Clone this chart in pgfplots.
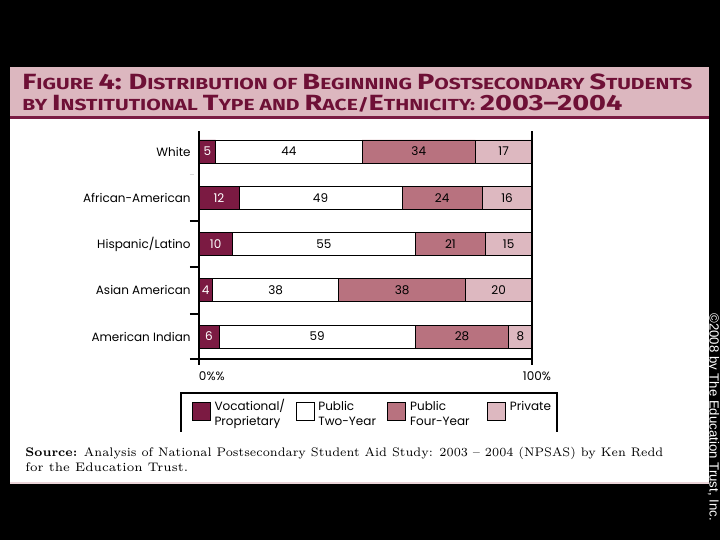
\documentclass[border=0pt]{standalone}
\usepackage{fontspec}
\usepackage{graphicx}
\usepackage{pgfplots}
\pgfplotsset{compat=1.18}
\newfontfamily\chartfont{Poppins}
\newfontfamily\titlefont{Fira Sans}
\newfontfamily\notefont{Liberation Sans}
\definecolor{voc}{HTML}{7B1A42}
\definecolor{four}{HTML}{B8727F}
\definecolor{priv}{HTML}{DDB8C0}
\definecolor{banner}{HTML}{DCB7BF}
\definecolor{titlecol}{HTML}{6E1036}
\definecolor{rulecol}{HTML}{7A1B43}
\newcommand\B[1]{{\fontsize{11}{11}\selectfont #1}}

\begin{document}
\begin{tikzpicture}
\path[use as bounding box] (0pt,0pt) rectangle (360pt,270pt);
% page, panel and title banner (1px = 0.5pt)
\fill[black] (0pt,0pt) rectangle (360pt,270pt);
\fill[white] (5pt,28pt) rectangle (354.5pt,236.5pt);
\fill[banner!60] (5pt,28pt) rectangle (354.5pt,28.8pt);
\fill[banner] (5pt,212pt) rectangle (354.5pt,236.5pt);
\fill[rulecol] (5pt,210.5pt) rectangle (354.5pt,212pt);
\node[anchor=base west, inner sep=0pt] at (11pt,225pt)
  {\resizebox{335pt}{\height}{\titlefont\bfseries\color{titlecol}\fontsize{8}{8}\selectfont
   \B{F}IGURE \B{4:} \B{D}ISTRIBUTION OF \B{B}EGINNING \B{P}OSTSECONDARY \B{S}TUDENTS}};
\node[anchor=base west, inner sep=0pt] at (11pt,214.5pt)
  {\resizebox{300pt}{\height}{\titlefont\bfseries\color{titlecol}\fontsize{8}{8}\selectfont
   BY \B{I}NSTITUTIONAL \B{T}YPE AND \B{R}ACE/\B{E}THNICITY: \B{2003–2004}}};

\begin{axis}[
  at={(99.5pt,90.5pt)}, anchor=south west,
  scale only axis, width=166.5pt, height=114pt,
  xbar stacked, bar width=11.5pt,
  xmin=0, xmax=100,
  ymin=-0.443, ymax=4.486, y dir=reverse,
  axis line style={draw=none},
  xtick={0,100}, xticklabels={\rlap{0\%\%}, \hspace*{5pt}100\%},
  xtick pos=bottom, xtick align=outside, major tick length=3pt,
  x tick style={black, line width=0.6pt},
  ytick={0,...,4},
  yticklabels={White, African-American, Hispanic/Latino\hspace{2pt}, Asian American\hspace{4.5pt}, American Indian\hspace{2.5pt}},
  y tick style={draw=none},
  y tick label style={anchor=east, inner sep=0pt, xshift=-4pt},
  font=\chartfont\fontsize{6}{7.5}\selectfont,
  /pgf/number format/assume math mode=true,
  point meta=explicit,
  nodes near coords,
  every node near coord/.append style={anchor=center},
  legend columns=4,
  legend style={at={(axis description cs:-0.023,-0.155)}, anchor=north west,
    draw=none, fill=none, inner sep=0pt, column sep=0pt,
    cells={anchor=base west}},
  legend image code/.code={\draw[#1, draw=black, line width=0.4pt] (0pt,-5pt) rectangle (9pt,4pt); \path (9pt,0pt);},
]
% bar length as drawn, [printed value]
\addplot[fill=voc, draw=black, line width=0.4pt, every node near coord/.append style={white}]
  coordinates {(5,0) [5] (12,1) [12] (10,2) [10] (4,3) [4] (6,4) [6]};
\addplot[fill=white, draw=black, line width=0.4pt]
  coordinates {(44,0) [44] (49,1) [49] (55,2) [55] (38,3) [38] (59,4) [59]};
\addplot[fill=four, draw=black, line width=0.4pt]
  coordinates {(34,0) [34] (24,1) [24] (21,2) [21] (38,3) [38] (28,4) [28]};
\addplot[fill=priv, draw=black, line width=0.4pt]
  coordinates {(17,0) [17] (15,1) [16] (14,2) [15] (20,3) [20] (7,4) [8]};
\legend{\parbox[t]{38.5pt}{Vocational/\\Proprietary},
        \parbox[t]{32.5pt}{Public\\Two-Year},
        \parbox[t]{36.5pt}{Public\\Four-Year},
        \parbox[t]{30pt}{Private}}
\end{axis}

% frame lines of the chart
\draw[line width=0.6pt] (99.5pt,87.5pt) -- (99.5pt,204.5pt);
\draw[line width=0.6pt] (266pt,87.5pt) -- (266pt,204.5pt);
\draw[line width=0.6pt] (95pt,90.5pt) -- (266pt,90.5pt);
\foreach \yy in {159.5,136.5,113} \draw[line width=0.6pt] (95pt,\yy pt) -- (99.5pt,\yy pt);
\draw[gray!30, line width=0.5pt] (95pt,182.5pt) -- (97pt,182.5pt);
% legend frame
\draw[line width=0.6pt] (90.5pt,54pt) -- (90.5pt,73.5pt) -- (278.5pt,73.5pt) -- (278.5pt,54pt);

% source note
\node[anchor=base west, inner sep=0pt] at (12.5pt,41.5pt)
  {\resizebox{319pt}{\height}{\fontsize{6.2}{7.5}\selectfont\textbf{Source:} Analysis of National Postsecondary Student Aid Study: 2003 -- 2004 (NPSAS) by Ken Redd}};
\node[anchor=base west, inner sep=0pt, font=\fontsize{6.2}{7.5}\selectfont] at (12.5pt,34pt)
  {for the Education Trust.};
% copyright
\node[rotate=-90, anchor=west, inner sep=0pt, white, font=\notefont\fontsize{6.6}{6.6}\selectfont] at (356.5pt,113.5pt)
  {\textcopyright2008 by The Education Trust, Inc.};
\end{tikzpicture}
\end{document}
